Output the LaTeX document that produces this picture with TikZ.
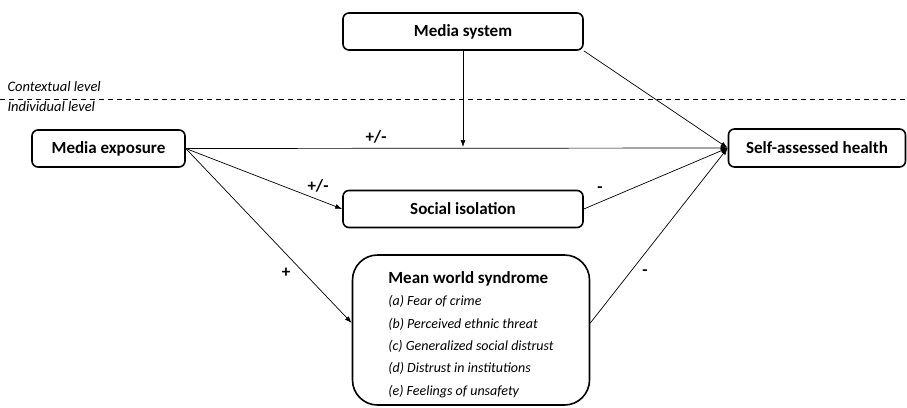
\documentclass[tikz,border=0pt]{standalone}
\usepackage{fontspec}
\setmainfont{Carlito}
\usetikzlibrary{arrows.meta}
\tikzset{
  box/.style={draw,line width=1.6pt,rounded corners=6pt,inner sep=0pt,
    font=\fontsize{17}{20}\selectfont\bfseries},
  path/.style={-{Latex[length=7pt,width=5pt]},line width=0.7pt},
  sign/.style={font=\fontsize{17}{20}\selectfont\bfseries},
  level/.style={anchor=west,font=\fontsize{14.5}{16}\selectfont\itshape}
}
\begin{document}
\begin{tikzpicture}[x=1pt,y=-1pt]
        \useasboundingbox (0,0) rectangle (907,407);
        %\draw[step=50,gray,very thin] (0,0) grid (907,407);
        \draw[dash pattern=on 5pt off 4pt,line width=0.8pt] (0,99) -- (907,99);
        \node[level] (ctx) at (4,87) {Contextual level};
        \node[level] (ind) at (4,107) {Individual level};
        \node[box,minimum width=240pt,minimum height=37pt] (ms) at (463,31.5) {Media system};
        \node[box,minimum width=153pt,minimum height=37pt] (me) at (108.5,148.5) {Media exposure};
        \node[box,minimum width=177pt,minimum height=38pt] (sah) at (817,148) {Self-assessed health};
        \node[box,minimum width=240pt,minimum height=37pt] (si) at (463,209) {Social isolation};
        \node[box,rounded corners=25pt,minimum width=237pt,minimum height=150pt,align=left,
          font=\fontsize{14}{22.4}\selectfont\itshape] (mws) at (471,330)
          {\rule{0pt}{21pt}{\fontsize{17}{22.4}\selectfont\bfseries\upshape Mean world syndrome}\\
           (a) Fear of crime\\
           (b) Perceived ethnic threat\\
           (c) Generalized social distrust\\
           (d) Distrust in institutions\\
           (e) Feelings of unsafety};
        \draw[path] (me.east) -- (sah.west);
        \draw[path,shorten >=1.5pt] (ms.south) -- (ms.south |- me.east);
        \draw[path] (ms.south east) -- (sah.west);
        \draw[path] (me.east) -- (si.west);
        \draw[path] (si.east) -- (sah.west);
        \draw[path] (me.east) -- ([yshift=7pt]mws.west);
        \draw[path] ([yshift=7pt]mws.east) -- (sah.west);
        \node[sign] (s1) at (376,137) {+/-};
        \node[sign] (s2) at (318,186) {+/-};
        \node[sign] (s3) at (286,273) {+};
        \node[sign] (s4) at (600,190) {-};
        \node[sign] (s5) at (645,273) {-};
\end{tikzpicture}
\end{document}
